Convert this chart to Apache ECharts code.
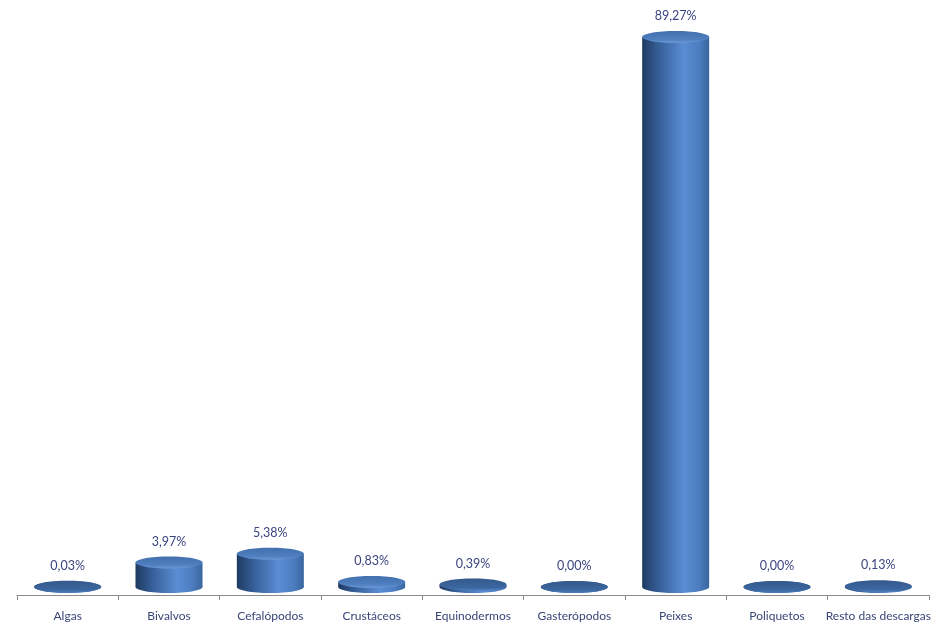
<!DOCTYPE html>
<html>
<head>
<meta charset="utf-8">
<script src="https://cdn.jsdelivr.net/npm/echarts@6/dist/echarts.min.js"></script>
<style>html,body{margin:0;padding:0;background:#fff}#c{width:948px;height:637px}</style>
</head>
<body>
<div id="c"></div>
<script>
const categories = ['Algas','Bivalvos','Cefalópodos','Crustáceos','Equinodermos','Gasterópodos','Peixes','Poliquetos','Resto das descargas'];
const values = [0.03, 3.97, 5.38, 0.83, 0.39, 0.00, 89.27, 0.00, 0.13];

const chart = echarts.init(document.getElementById('c'));
const W = 67, RY = 6, OFF = 8;
const bodyGrad = () => new echarts.graphic.LinearGradient(0,0,1,0,[
  {offset:0,color:'#1f3a62'},
  {offset:0.25,color:'#365f98'},
  {offset:0.62,color:'#5a8dd4'},
  {offset:0.85,color:'#4c7dc0'},
  {offset:1,color:'#3a669f'}
]);
const topGrad = () => new echarts.graphic.LinearGradient(0,0,0,1,[
  {offset:0,color:'#4370ad'},
  {offset:0.7,color:'#4f7fbf'},
  {offset:1,color:'#6a98d6'}
]);
const flatGrad = () => new echarts.graphic.LinearGradient(0,0,0,1,[
  {offset:0,color:'#34598c'},
  {offset:0.75,color:'#3b679f'},
  {offset:1,color:'#4f7fbf'}
]);
function fmt(v){ return v.toFixed(2).replace('.', ',') + '%'; }

chart.setOption({
  animation:false,
  grid:{left:17,right:19,top:40.5,bottom:42,outerBoundsMode:'none'},
  xAxis:{
    type:'category', data:categories,
    axisLine:{lineStyle:{color:'#8a8a8a',width:1}},
    axisTick:{show:true,length:5,lineStyle:{color:'#8a8a8a'}},
    axisLabel:{color:'#3a4678',fontSize:12,fontFamily:'Lato',margin:15,interval:0}
  },
  yAxis:{type:'value',min:0,max:90,show:false},
  series:[{
    type:'custom',
    data: values.map((v,i)=>[i,v]),
    renderItem(params, api){
      const i = api.value(0), v = api.value(1);
      const b = api.coord([i,0]), t = api.coord([i,v]);
      const cx = b[0], by = b[1]-OFF, ty = t[1]-OFF;
      const h = by - ty;
      const children = [
        {type:'ellipse',shape:{cx:cx,cy:by,rx:W/2,ry:RY},style:{fill:bodyGrad()}},
        {type:'rect',shape:{x:cx-W/2,y:ty,width:W,height:Math.max(0,h)},style:{fill:bodyGrad()}},
        {type:'ellipse',shape:{cx:cx,cy:ty,rx:W/2,ry:RY},style:{fill:h < 3 ? flatGrad() : topGrad()}},
        {type:'text',style:{text:fmt(v),x:cx,y:ty-21,align:'center',verticalAlign:'middle',fill:'#3a4480',font:'12.5px Lato'}}
      ];
      return {type:'group',children:children};
    }
  }]
});
</script>
</body>
</html>
